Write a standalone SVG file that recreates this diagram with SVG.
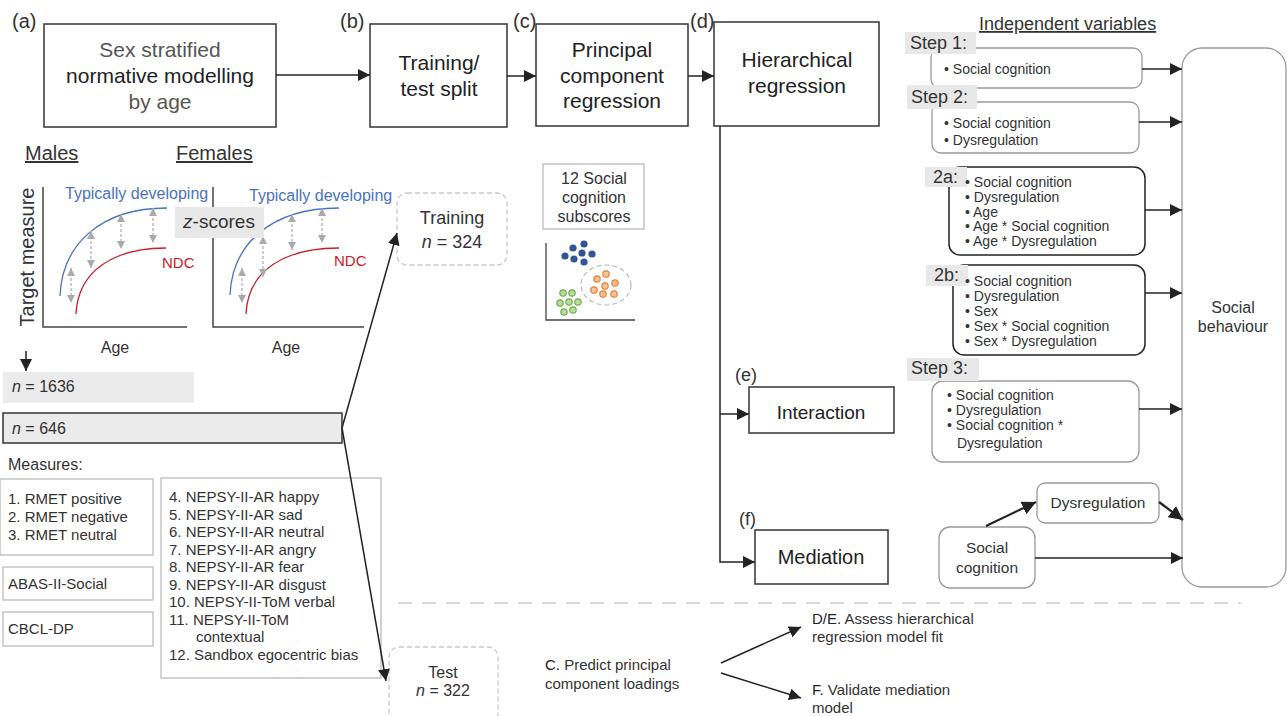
<svg xmlns="http://www.w3.org/2000/svg" width="1287" height="716" viewBox="0 0 1287 716">
<defs>
<style>
text{font-family:"Liberation Sans",Arial,sans-serif;fill:#333}
.box{fill:#fff;stroke:#333;stroke-width:1.5}
.lbox{fill:#fff;stroke:#bbb;stroke-width:1.3}
.rbox{fill:#fff;stroke:#999;stroke-width:1.3}
.dbox{fill:#fff;stroke:#222;stroke-width:1.5}
.dash{fill:#fff;stroke:#c8c8c8;stroke-width:1.3;stroke-dasharray:5 3}
.tag{fill:#e8e8e8}
.t21{font-size:21px;text-anchor:middle}
.t20{font-size:20px}
.t18{font-size:18px}
.t16{font-size:16px}
.t15{font-size:15px}
.t14{font-size:14px}
.c{text-anchor:middle}
.con{fill:none;stroke:#222;stroke-width:1.5}
.gdash{fill:none;stroke:#aaa;stroke-width:1.2;stroke-dasharray:3 2}
.dot-b{fill:#2f5597}
.dot-o{fill:#f8c39c;stroke:#ed7d31;stroke-width:1.2}
.dot-g{fill:#b8dba0;stroke:#70ad47;stroke-width:1.2}
</style>
<marker id="ah" viewBox="0 0 10 10" refX="10" refY="5" markerWidth="12" markerHeight="12" markerUnits="userSpaceOnUse" orient="auto"><path d="M0,0 L10,5 L0,10 Z" fill="#222"/></marker>
<marker id="ahb" viewBox="0 0 10 10" refX="10" refY="5" markerWidth="14" markerHeight="14" markerUnits="userSpaceOnUse" orient="auto"><path d="M0,0 L10,5 L0,10 Z" fill="#222"/></marker>
<marker id="ga" viewBox="0 0 10 10" refX="10" refY="5" markerWidth="8" markerHeight="8" markerUnits="userSpaceOnUse" orient="auto-start-reverse"><path d="M0,0 L10,5 L0,10 Z" fill="#aaa"/></marker>
</defs>

<g id="labels">
<text class="t20" x="12" y="28">(a)</text>
<text class="t20" x="340" y="28">(b)</text>
<text class="t20" x="513" y="28">(c)</text>
<text class="t20" x="690" y="28">(d)</text>
<text class="t18" x="735" y="381">(e)</text>
<text class="t18" x="739" y="525">(f)</text>
</g>

<g id="node-a">
<rect class="box" x="44" y="24" width="232" height="103"/>
<text class="t21" x="160" y="57" style="fill:#555">Sex stratified</text>
<text class="t21" x="160" y="83" style="fill:#222">normative modelling</text>
<text class="t21" x="160" y="109" style="fill:#555">by age</text>
</g>

<g id="node-b">
<rect class="box" x="370" y="24" width="137" height="103"/>
<text class="t21" x="439" y="70" style="fill:#222">Training/</text>
<text class="t21" x="439" y="96" style="fill:#222">test split</text>
</g>

<g id="node-c">
<rect class="box" x="536" y="24" width="152" height="102"/>
<text class="t21" x="612" y="57" style="fill:#222">Principal</text>
<text class="t21" x="612" y="83" style="fill:#222">component</text>
<text class="t21" x="612" y="108" style="fill:#222">regression</text>
</g>

<g id="node-d">
<rect class="box" x="714" y="22" width="165" height="104"/>
<text class="t21" x="797" y="67" style="fill:#222">Hierarchical</text>
<text class="t21" x="797" y="93" style="fill:#222">regression</text>
</g>

<g id="charts">
<text class="t20" x="25" y="160" text-decoration="underline">Males</text>
<text class="t20" x="176" y="160" text-decoration="underline">Females</text>
<text class="t20 c" transform="translate(34,257) rotate(-90)">Target measure</text>
<path d="M43 187 V327 H187" fill="none" stroke="#444" stroke-width="1.5"/>
<path d="M213 187 V327 H364" fill="none" stroke="#444" stroke-width="1.5"/>
<path d="M60 296 C62 245 100 208 167 208" fill="none" stroke="#4a72c0" stroke-width="1.3"/>
<path d="M76 314 C78 270 115 248 166 248" fill="none" stroke="#c8202a" stroke-width="1.3"/>
<path d="M230 295 C232 245 270 208 339 208" fill="none" stroke="#4a72c0" stroke-width="1.3"/>
<path d="M246 314 C248 270 285 248 339 248" fill="none" stroke="#c8202a" stroke-width="1.3"/>
<path class="gdash" d="M71 268 V303" marker-start="url(#ga)" marker-end="url(#ga)"/>
<path class="gdash" d="M91 231 V268" marker-start="url(#ga)" marker-end="url(#ga)"/>
<path class="gdash" d="M121 214 V249" marker-start="url(#ga)" marker-end="url(#ga)"/>
<path class="gdash" d="M153 208 V243" marker-start="url(#ga)" marker-end="url(#ga)"/>
<path class="gdash" d="M242 268 V303" marker-start="url(#ga)" marker-end="url(#ga)"/>
<path class="gdash" d="M263 236 V277" marker-start="url(#ga)" marker-end="url(#ga)"/>
<path class="gdash" d="M292 214 V250" marker-start="url(#ga)" marker-end="url(#ga)"/>
<path class="gdash" d="M322 208 V243" marker-start="url(#ga)" marker-end="url(#ga)"/>
<text class="t16" x="65" y="199" style="fill:#4a72c0">Typically developing</text>
<text class="t16" x="249" y="201" style="fill:#4a72c0">Typically developing</text>
<text class="t15" x="162" y="268" style="fill:#c8202a">NDC</text>
<text class="t15" x="334" y="266" style="fill:#c8202a">NDC</text>
<text class="t16 c" x="115" y="353">Age</text>
<text class="t16 c" x="286" y="353">Age</text>
<rect class="tag" x="175" y="207" width="89" height="31"/>
<text class="c" x="219" y="228" style="font-size:19px"><tspan font-style="italic">z</tspan>-scores</text>
</g>

<g id="node-n1636">
<rect x="3" y="372" width="191" height="31" fill="#ebebeb"/>
<text class="t16" x="12" y="392"><tspan font-style="italic">n</tspan> = 1636</text>
</g>

<g id="node-n646">
<rect x="3" y="413" width="339" height="30" fill="#ebebeb" stroke="#333" stroke-width="1.5"/>
<text class="t16" x="12" y="434"><tspan font-style="italic">n</tspan> = 646</text>
</g>

<g id="measures">
<text class="t16" x="8" y="470">Measures:</text>
<rect class="lbox" x="0" y="479" width="153" height="76"/>
<text class="t15" x="8" y="504">1. RMET positive</text>
<text class="t15" x="8" y="522">2. RMET negative</text>
<text class="t15" x="8" y="540">3. RMET neutral</text>
<rect class="lbox" x="3" y="567" width="150" height="33"/>
<text class="t15" x="8" y="589">ABAS-II-Social</text>
<rect class="lbox" x="3" y="612" width="150" height="34"/>
<text class="t15" x="8" y="634">CBCL-DP</text>
<rect class="lbox" x="161" y="478" width="220" height="200"/>
<text class="t15" x="169" y="502">4. NEPSY-II-AR happy</text>
<text class="t15" x="169" y="519.5">5. NEPSY-II-AR sad</text>
<text class="t15" x="169" y="537">6. NEPSY-II-AR neutral</text>
<text class="t15" x="169" y="554.5">7. NEPSY-II-AR angry</text>
<text class="t15" x="169" y="572">8. NEPSY-II-AR fear</text>
<text class="t15" x="169" y="589.5">9. NEPSY-II-AR disgust</text>
<text class="t15" x="169" y="607">10. NEPSY-II-ToM verbal</text>
<text class="t15" x="169" y="624.5">11. NEPSY-II-ToM</text>
<text class="t15" x="196" y="642">contextual</text>
<text class="t15" x="169" y="659.5">12. Sandbox egocentric bias</text>
</g>

<g id="node-training">
<rect class="dash" x="397" y="193" width="110" height="72" rx="10"/>
<text class="t18 c" x="452" y="224">Training</text>
<text class="t18 c" x="452" y="248"><tspan font-style="italic">n</tspan> = 324</text>
</g>

<g id="node-test">
<rect class="dash" x="389" y="647" width="109" height="80" rx="10"/>
<text class="t16 c" x="443" y="678">Test</text>
<text class="t16 c" x="443" y="696"><tspan font-style="italic">n</tspan> = 322</text>
</g>

<g id="node-subscores">
<rect class="lbox" x="543" y="164" width="101" height="65"/>
<text class="t16 c" x="594" y="184">12 Social</text>
<text class="t16 c" x="594" y="203">cognition</text>
<text class="t16 c" x="594" y="222">subscores</text>
</g>

<g id="scatter">
<path d="M546 243 V320 H635" fill="none" stroke="#444" stroke-width="1.3"/>
<ellipse cx="606" cy="285" rx="25" ry="20" fill="none" stroke="#bbb" stroke-width="1.2" stroke-dasharray="5 3"/>
<circle class="dot-b" cx="573" cy="248" r="3.6"/><circle class="dot-b" cx="584" cy="244" r="3.6"/><circle class="dot-b" cx="565" cy="256" r="3.6"/><circle class="dot-b" cx="574" cy="259" r="3.6"/><circle class="dot-b" cx="582" cy="253" r="3.6"/><circle class="dot-b" cx="592" cy="254" r="3.6"/><circle class="dot-b" cx="584" cy="262" r="3.6"/>
<circle class="dot-o" cx="597" cy="279" r="3.2"/><circle class="dot-o" cx="606" cy="274" r="3.2"/><circle class="dot-o" cx="594" cy="290" r="3.2"/><circle class="dot-o" cx="605" cy="286" r="3.2"/><circle class="dot-o" cx="615" cy="283" r="3.2"/><circle class="dot-o" cx="603" cy="294" r="3.2"/><circle class="dot-o" cx="614" cy="294" r="3.2"/>
<circle class="dot-g" cx="563" cy="293" r="3.2"/><circle class="dot-g" cx="572" cy="293" r="3.2"/><circle class="dot-g" cx="560" cy="303" r="3.2"/><circle class="dot-g" cx="569" cy="302" r="3.2"/><circle class="dot-g" cx="578" cy="302" r="3.2"/><circle class="dot-g" cx="564" cy="312" r="3.2"/><circle class="dot-g" cx="573" cy="310" r="3.2"/>
</g>

<g id="node-interaction">
<rect class="box" x="749" y="387" width="145" height="46"/>
<text class="c" x="821" y="419" style="font-size:19px;fill:#222">Interaction</text>
</g>

<g id="node-mediation">
<rect class="box" x="755" y="530" width="133" height="54"/>
<text class="c" x="821" y="564" style="font-size:20px;fill:#222">Mediation</text>
</g>

<g id="node-behaviour">
<rect class="rbox" x="1182" y="48" width="104" height="539" rx="20"/>
<text class="t16 c" x="1233" y="313">Social</text>
<text class="t16 c" x="1233" y="332">behaviour</text>
</g>

<g id="independent">
<text class="t18" x="979" y="30" text-decoration="underline">Independent variables</text>
</g>

<g id="step1">
<rect class="rbox" x="931" y="48" width="211" height="40" rx="9"/>
<rect class="tag" x="905" y="32" width="71" height="22"/>
<text class="t18" x="910" y="49">Step 1:</text>
<text class="t14" x="944" y="74">• Social cognition</text>
</g>

<g id="step2">
<rect class="rbox" x="932" y="102" width="207" height="51" rx="9"/>
<rect class="tag" x="907" y="85" width="70" height="24"/>
<text class="t18" x="911" y="103">Step 2:</text>
<text class="t14" x="944" y="128">• Social cognition</text>
<text class="t14" x="944" y="145">• Dysregulation</text>
</g>

<g id="step2a">
<rect class="dbox" x="949" y="167" width="196" height="88" rx="11"/>
<rect class="tag" x="925" y="167" width="42" height="20"/>
<text class="t18" x="933" y="183">2a:</text>
<text class="t14" x="965" y="187">• Social cognition</text>
<text class="t14" x="965" y="202">• Dysregulation</text>
<text class="t14" x="965" y="217">• Age</text>
<text class="t14" x="965" y="231">• Age * Social cognition</text>
<text class="t14" x="965" y="246">• Age * Dysregulation</text>
</g>

<g id="step2b">
<rect class="dbox" x="953" y="265" width="192" height="90" rx="11"/>
<rect class="tag" x="926" y="265" width="42" height="21"/>
<text class="t18" x="934" y="281">2b:</text>
<text class="t14" x="965" y="286">• Social cognition</text>
<text class="t14" x="965" y="301">• Dysregulation</text>
<text class="t14" x="965" y="316">• Sex</text>
<text class="t14" x="965" y="331">• Sex * Social cognition</text>
<text class="t14" x="965" y="346">• Sex * Dysregulation</text>
</g>

<g id="step3">
<rect class="rbox" x="932" y="381" width="207" height="81" rx="11"/>
<rect class="tag" x="907" y="358" width="72" height="23"/>
<text class="t18" x="911" y="374">Step 3:</text>
<text class="t14" x="947" y="400">• Social cognition</text>
<text class="t14" x="947" y="415">• Dysregulation</text>
<text class="t14" x="947" y="430">• Social cognition *</text>
<text class="t14" x="957" y="448">Dysregulation</text>
</g>

<g id="node-dysreg">
<rect class="rbox" x="1037" y="483" width="122" height="40" rx="8"/>
<text class="c" x="1098" y="508" style="font-size:15.5px">Dysregulation</text>
</g>

<g id="node-socialcog">
<rect class="rbox" x="939" y="527" width="96" height="61" rx="11"/>
<text class="c" x="987" y="553" style="font-size:15.5px">Social</text>
<text class="c" x="987" y="573" style="font-size:15.5px">cognition</text>
</g>

<g id="validation">
<text class="t15" x="545" y="670"><tspan style="fill:#222">C.</tspan> Predict principal</text>
<text class="t15" x="545" y="689">component loadings</text>
<text class="t15" x="812" y="624"><tspan style="fill:#222">D/E.</tspan> Assess hierarchical</text>
<text class="t15" x="812" y="642">regression model fit</text>
<text class="t15" x="812" y="695"><tspan style="fill:#222">F.</tspan> Validate mediation</text>
<text class="t15" x="812" y="713">model</text>
</g>

<g id="connectors">
<path class="con" d="M276 75 H370" marker-end="url(#ah)"/>
<path class="con" d="M507 76 H536" marker-end="url(#ah)"/>
<path class="con" d="M688 76 H714" marker-end="url(#ah)"/>
<path class="con" d="M720 126 V562 H755" marker-end="url(#ah)"/>
<path class="con" d="M720 414 H749" marker-end="url(#ah)"/>
<path class="con" d="M1142 69 H1182" marker-end="url(#ah)"/>
<path class="con" d="M1139 122 H1182" marker-end="url(#ah)"/>
<path class="con" d="M1145 210 H1182" marker-end="url(#ah)"/>
<path class="con" d="M1145 293 H1182" marker-end="url(#ah)"/>
<path class="con" d="M1139 409 H1182" marker-end="url(#ah)"/>
<path class="con" d="M986 526 L1036 502" style="stroke-width:2.2" marker-end="url(#ahb)"/>
<path class="con" d="M1159 502 L1183 520" style="stroke-width:2.2" marker-end="url(#ahb)"/>
<path class="con" d="M1035 558 H1183" marker-end="url(#ah)"/>
<path class="con" d="M26 351 V371" marker-end="url(#ah)"/>
<path class="con" d="M342 428 L397 233" marker-end="url(#ah)"/>
<path class="con" d="M342 428 L386 681" marker-end="url(#ah)"/>
<path class="con" d="M721 663 L801 627" marker-end="url(#ah)"/>
<path class="con" d="M721 673 L801 698" marker-end="url(#ah)"/>
<path d="M398 603 H1241" fill="none" stroke="#ccc" stroke-width="1.3" stroke-dasharray="14 10"/>
</g>
</svg>
